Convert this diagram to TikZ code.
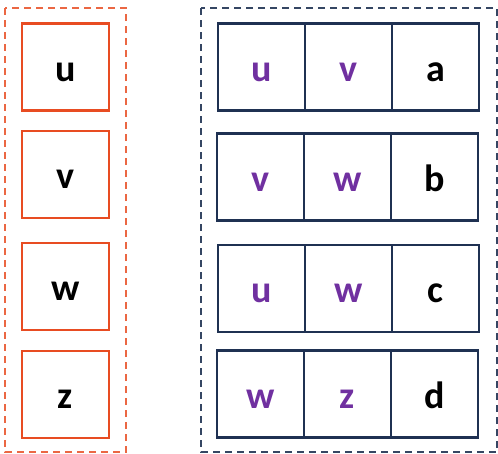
\documentclass[tikz,border=0pt]{standalone}
\usepackage{fontspec}
\setmainfont{Carlito}
\usepackage{tikz}
\usetikzlibrary{positioning}
\definecolor{vorange}{RGB}{232,76,34}
\definecolor{enavy}{RGB}{31,49,82}
\definecolor{epurple}{RGB}{112,48,160}

\begin{document}
\begin{tikzpicture}[x = 1pt, y = -1pt,
	vbox/.style = {draw = vorange, line width = 2.2pt, minimum size = 87pt,
		inner sep = 0pt, outer sep = 0pt, text height = 28pt, text depth = 0pt,
		font = \fontsize{38}{42}\selectfont\bfseries},
	ecell/.style = {vbox, draw = enavy},
	vname/.style = {text = epurple},
	elabel/.style = {text = black},
	node distance = 0pt]
\useasboundingbox (0,0) rectangle (498,453);
\draw [dashed, dash pattern = on 7pt off 5pt, color = vorange!85, line width = 1.6pt]
	(5,8) rectangle (126,452);
\draw [dashed, dash pattern = on 7pt off 5pt, color = enavy!90, line width = 1.6pt]
	(201,8) rectangle (497,452);
\foreach \v/\y in {u/67, v/174.5, w/286.5, z/394.5}
\node [vbox] (vert-\v) at (65.5, \y) {\v};
\node [ecell, vname] (ea1) at (261.5, 67) {u};
\node [ecell, vname, right = of ea1] (ea2) {v};
\node [ecell, elabel, right = of ea2] (ea3) {a};
\node [ecell, vname] (eb1) at (260.5, 177) {v};
\node [ecell, vname, right = of eb1] (eb2) {w};
\node [ecell, elabel, right = of eb2] (eb3) {b};
\node [ecell, vname] (ec1) at (261.5, 288.5) {u};
\node [ecell, vname, right = of ec1] (ec2) {w};
\node [ecell, elabel, right = of ec2] (ec3) {c};
\node [ecell, vname] (ed1) at (260.5, 394) {w};
\node [ecell, vname, right = of ed1] (ed2) {z};
\node [ecell, elabel, right = of ed2] (ed3) {d};
\end{tikzpicture}
\end{document}
